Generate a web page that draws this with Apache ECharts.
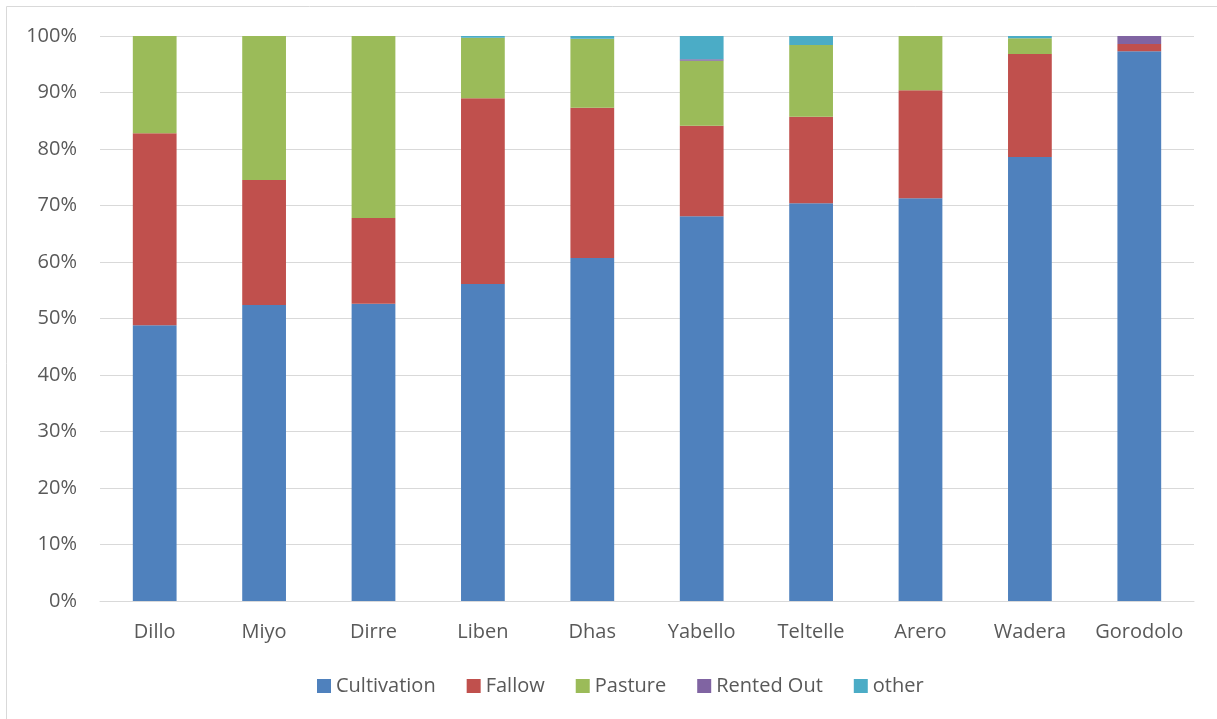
<!DOCTYPE html>
<html>
<head>
<meta charset="utf-8">
<script src="https://cdn.jsdelivr.net/npm/echarts@6/dist/echarts.min.js"></script>
<style>
  html, body { margin: 0; padding: 0; background: #fff; }
  #chart { width: 1217px; height: 719px; }
</style>
</head>
<body>
<div id="chart"></div>
<script>
const categories = ["Dillo", "Miyo", "Dirre", "Liben", "Dhas", "Yabello", "Teltelle", "Arero", "Wadera", "Gorodolo"];
const cultivation = [48.8, 52.4, 52.6, 56.1, 60.7, 68.1, 70.4, 71.3, 78.6, 97.3];
const fallow = [34.0, 22.1, 15.2, 32.9, 26.6, 16.0, 15.3, 19.1, 18.2, 1.3];
const pasture = [17.2, 25.5, 32.2, 10.7, 12.2, 11.5, 12.7, 9.6, 2.8, 0];
const rentedOut = [0, 0, 0, 0, 0, 0.3, 0, 0, 0, 1.4];
const other = [0, 0, 0, 0.3, 0.5, 4.1, 1.6, 0, 0.4, 0];
const yTicks = [0, 10, 20, 30, 40, 50, 60, 70, 80, 90, 100];

const chart = echarts.init(document.getElementById("chart"));

const font = "'Open Sans', 'Noto Sans', sans-serif";

function bar(name, data, color) {
  return {
    name: name,
    type: "bar",
    stack: "total",
    data: data,
    barWidth: "40%",
    itemStyle: { color: color },
    emphasis: { disabled: true }
  };
}

const option = {
  animation: false,
  textStyle: { fontFamily: font },
  graphic: [{
    type: "rect",
    shape: { x: 6.5, y: 6.5, width: 1400, height: 900 },
    style: { fill: "none", stroke: "#d9d9d9", lineWidth: 1 },
    silent: true
  }],
  grid: { left: 100, right: 23, top: 36, bottom: 118 },
  legend: {
    top: 671,
    left: 312,
    itemWidth: 14,
    itemHeight: 14,
    itemGap: 31,
    icon: "rect",
    textStyle: { color: "#595959", fontSize: 20, fontFamily: font },
    data: ["Cultivation", "Fallow", "Pasture", "Rented Out", "other"]
  },
  xAxis: {
    type: "category",
    data: categories,
    axisLine: { lineStyle: { color: "#d9d9d9", width: 1 } },
    axisTick: { show: false },
    axisLabel: { color: "#595959", fontSize: 20, margin: 21, interval: 0, fontFamily: font }
  },
  yAxis: {
    type: "value",
    min: yTicks[0],
    max: yTicks[yTicks.length - 1],
    interval: 10,
    axisLine: { show: false },
    axisTick: { show: false },
    splitLine: { lineStyle: { color: "#d9d9d9", width: 1 } },
    axisLabel: { color: "#595959", fontSize: 20, margin: 23, fontFamily: font, formatter: "{value}%" }
  },
  series: [
    bar("Cultivation", cultivation, "#4f81bd"),
    bar("Fallow", fallow, "#c0504d"),
    bar("Pasture", pasture, "#9bbb59"),
    bar("Rented Out", rentedOut, "#8064a2"),
    bar("other", other, "#4bacc6")
  ]
};

chart.setOption(option);

window.addEventListener("resize", function () {
  chart.resize();
});
</script>
</body>
</html>
